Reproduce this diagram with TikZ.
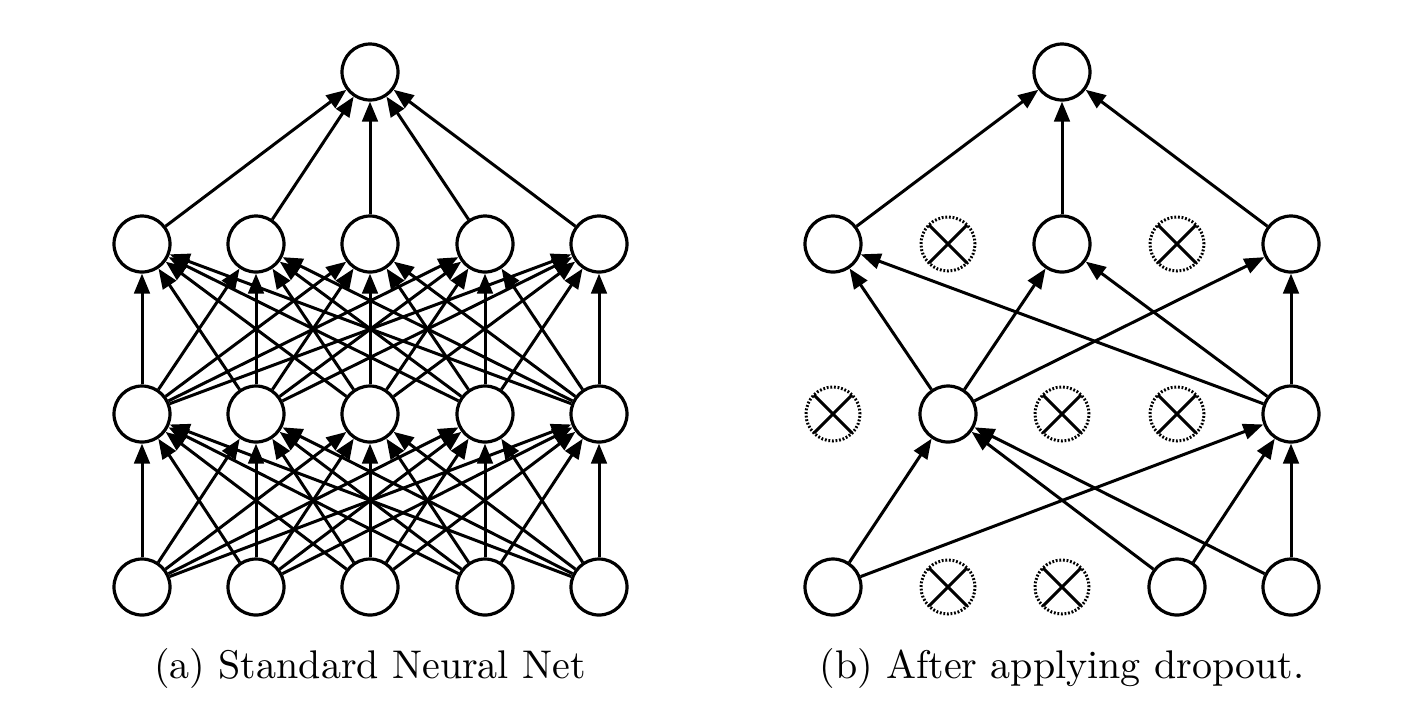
\documentclass[tikz,border=0pt]{standalone}
\usetikzlibrary{arrows.meta}
\begin{document}
\begin{tikzpicture}[x=0.5pt,y=-0.5pt,
  neuron/.style={circle,draw,line width=1.6pt,minimum size=28pt,inner sep=0pt},
  dropped/.style={circle,draw,line width=1.5pt,dash pattern=on 0.9pt off 0.9pt,minimum size=27pt,inner sep=0pt,
    path picture={\draw[solid,line width=1.5pt] (path picture bounding box.north west)--(path picture bounding box.south east)
      (path picture bounding box.north east)--(path picture bounding box.south west);}},
  conn/.style={line width=1.5pt,-{Triangle[length=10pt,width=7.8pt]}},
  captext/.style={font=\fontsize{10}{12}\selectfont,scale=2.0,anchor=base}]
\useasboundingbox (0,0) rectangle (1409,720);
% (a) standard network
\foreach \i/\x in {1/142,2/256,3/370,4/485,5/599}{
  \node[neuron] (ai\i) at (\x,587) {};
  \node[neuron] (ah\i) at (\x,414) {};
  \node[neuron] (ag\i) at (\x,244) {};
}
\node[neuron] (ao) at (370,72) {};
\foreach \i in {1,...,5}{
  \foreach \j in {1,...,5}{
    \draw[conn] (ai\i) -- (ah\j);
    \draw[conn] (ah\i) -- (ag\j);
  }
  \draw[conn] (ag\i) -- (ao);
}
\node[captext] (capa) at (370,678) {(a) Standard Neural Net};
% (b) after dropout
\node[neuron] (bi1) at (833,587) {};
\node[dropped] (bi2) at (948,587) {};
\node[dropped] (bi3) at (1062,587) {};
\node[neuron] (bi4) at (1177,587) {};
\node[neuron] (bi5) at (1291,587) {};
\node[dropped] (bh1) at (833,414) {};
\node[neuron] (bh2) at (948,414) {};
\node[dropped] (bh3) at (1062,414) {};
\node[dropped] (bh4) at (1177,414) {};
\node[neuron] (bh5) at (1291,414) {};
\node[neuron] (bg1) at (833,244) {};
\node[dropped] (bg2) at (948,244) {};
\node[neuron] (bg3) at (1062,244) {};
\node[dropped] (bg4) at (1177,244) {};
\node[neuron] (bg5) at (1291,244) {};
\node[neuron] (bo) at (1062,72) {};
\foreach \s in {bi1,bi4,bi5}{
  \draw[conn] (\s) -- (bh2);
  \draw[conn] (\s) -- (bh5);
}
\foreach \s in {bh2,bh5}{
  \draw[conn] (\s) -- (bg1);
  \draw[conn] (\s) -- (bg3);
  \draw[conn] (\s) -- (bg5);
}
\foreach \s in {bg1,bg3,bg5}{
  \draw[conn] (\s) -- (bo);
}
\node[captext] (capb) at (1062,678) {(b) After applying dropout.};
\end{tikzpicture}
\end{document}
